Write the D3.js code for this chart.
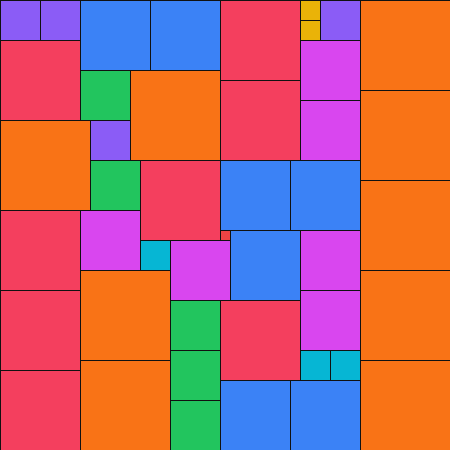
<!DOCTYPE html>
<html lang="en">
<meta charset="utf-8">
<title>Square packing</title>
<style>
  body { margin: 0; background: #fff; }
  svg { display: block; }
</style>
<body>
  <script src="https://d3js.org/d3.v7.min.js"></script>
  <script>
    // one entry per square, in grid units (45 x 45 board)
    var sizes = [9, 9, 9, 9, 9, 9, 9, 9, 9,
                 8, 8, 8, 8, 8, 8, 8, 8,
                 7, 7, 7, 7, 7, 7, 7,
                 6, 6, 6, 6, 6, 6,
                 5, 5, 5, 5, 5,
                 4, 4, 4, 4,
                 3, 3, 3,
                 2, 2,
                 1];
    var cols = [36, 36, 36, 36, 36, 13, 0, 8, 8,
                22, 0, 22, 14, 0, 0, 22, 0,
                8, 15, 22, 29, 23, 22, 29,
                30, 30, 8, 17, 30, 30,
                8, 9, 17, 17, 17,
                0, 4, 32, 9,
                14, 30, 33,
                30, 30,
                22];
    var rows = [0, 9, 18, 27, 36, 7, 12, 27, 36,
                0, 4, 8, 16, 21, 29, 30, 37,
                0, 0, 16, 16, 23, 38, 38,
                4, 10, 21, 24, 23, 29,
                7, 16, 30, 35, 40,
                0, 0, 0, 12,
                24, 35, 35,
                0, 2,
                23];
    var sizeKeys = [9, 8, 7, 6, 5, 4, 3, 2, 1];
    var sizeColors = ["#f97316", "#f43f5e", "#3b82f6", "#d946ef", "#22c55e",
                      "#8b5cf6", "#06b6d4", "#eab308", "#ef4444"];

    var width = 450, height = 450;

    var x = d3.scaleLinear().domain([0, 45]).range([0, width]);
    var y = d3.scaleLinear().domain([0, 45]).range([0, height]);
    var color = d3.scaleOrdinal().domain(sizeKeys).range(sizeColors);

    var data = sizes.map(function(s, i) {
      return { size: s, col: cols[i], row: rows[i] };
    });

    var svg = d3.select("body").append("svg")
      .attr("width", width)
      .attr("height", height);

    svg.selectAll("rect")
      .data(data)
      .enter().append("rect")
      .attr("x", function(d) { return x(d.col); })
      .attr("y", function(d) { return y(d.row); })
      .attr("width", function(d) { return x(d.col + d.size) - x(d.col); })
      .attr("height", function(d) { return y(d.row + d.size) - y(d.row); })
      .attr("fill", function(d) { return color(d.size); })
      .attr("stroke", "#111")
      .attr("stroke-width", 1)
      .attr("shape-rendering", "crispEdges");
  </script>
</body>
